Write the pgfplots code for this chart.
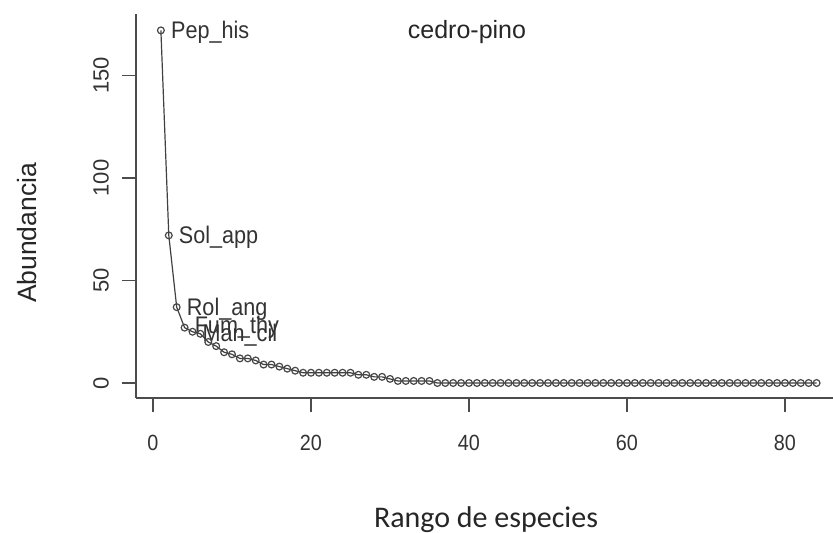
\documentclass[border=0pt]{standalone}
\usepackage{pgfplots}
\pgfplotsset{compat=1.18}
\usepackage{fontspec}
\setmainfont{Liberation Sans}
\newfontfamily\narrowfont[FakeStretch=0.9]{Liberation Sans}
\newfontfamily\carlito{Carlito}
\pgfplotstableread{
r v
1 172
2 72
3 37
4 27
5 25
6 24
7 20
8 18
9 15
10 14
11 12
12 12
13 11
14 9
15 9
16 8
17 7
18 6
19 5
20 5
21 5
22 5
23 5
24 5
25 5
26 4
27 4
28 3
29 3
30 2
31 1
32 1
33 1
34 1
35 1
36 0
37 0
38 0
39 0
40 0
41 0
42 0
43 0
44 0
45 0
46 0
47 0
48 0
49 0
50 0
51 0
52 0
53 0
54 0
55 0
56 0
57 0
58 0
59 0
60 0
61 0
62 0
63 0
64 0
65 0
66 0
67 0
68 0
69 0
70 0
71 0
72 0
73 0
74 0
75 0
76 0
77 0
78 0
79 0
80 0
81 0
82 0
83 0
84 0
}\abund
\begin{document}
\begin{tikzpicture}
\path[use as bounding box] (-136pt,-135pt) rectangle (697pt,398pt);
\begin{axis}[
  at={(0pt,0pt)}, anchor=south west,
  scale only axis, width=697pt, height=384pt,
  xmin=-2.152, xmax=86.08, ymin=-7.317, ymax=180,
  axis x line=bottom, axis y line=left,
  axis line style={-, black!70, line width=1.2pt},
  tick align=outside, major tick length=13.5pt,
  every tick/.style={black!70, line width=1.2pt},
  xtick={0,20,40,60,80}, ytick={0,50,100,150},
  minor tick num=0,
  /pgf/number format/assume math mode=true,
  xticklabel style={font=\narrowfont\fontsize{22}{22}\selectfont, text=black!80, anchor=north, inner sep=0pt},
  yticklabel style={font=\fontsize{22}{22}\selectfont, text=black!80, rotate=90, anchor=south, inner sep=0pt},
  xticklabel shift=23.5pt,
  yticklabel shift=13.5pt,
  clip=false,
]
\addplot[black!75, line width=1.2pt, mark=o, mark size=3.4pt,
  mark options={draw=black!72, line width=1.2pt}] table[x=r, y=v] {\abund};
\begin{scope}[every node/.style={font=\narrowfont\fontsize{24}{24}\selectfont, text=black!80, anchor=base west, xshift=10pt, yshift=-8pt, inner sep=0pt}]
\node at (axis cs:1,172) {Pep\_his};
\node at (axis cs:2,72) {Sol\_app};
\node at (axis cs:3,37) {Rol\_ang};
\node at (axis cs:4,28) {Fum\_thy};
\node at (axis cs:5,24) {Man\_cil};
\end{scope}
\end{axis}
\node[font=\fontsize{25}{25}\selectfont, anchor=base, text=black!85] at (331pt,359.7pt) {cedro-pino};
\node[font=\fontsize{26.5}{26.5}\selectfont, rotate=90, anchor=base, text=black!85, inner sep=0pt] at (-99pt,165pt) {Abundancia};
\node[font=\carlito\fontsize{30}{30}\selectfont, anchor=base, text=black!85, inner sep=0pt] at (350pt,-129pt) {Rango de especies};
\end{tikzpicture}
\end{document}
